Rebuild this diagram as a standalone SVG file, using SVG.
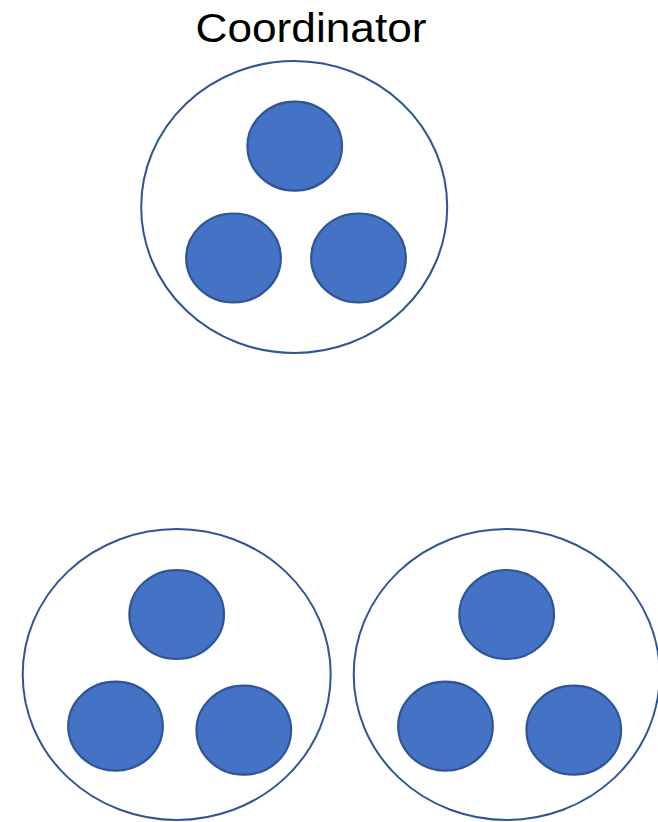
<svg xmlns="http://www.w3.org/2000/svg" width="658" height="822" viewBox="0 0 658 822">
<style>
.group{fill:#FFFFFF;stroke:#2F5597;stroke-width:2}
.member{fill:#4472C4;stroke:#2F5597;stroke-width:2.2}
.label{font-family:"Liberation Sans",Arial,sans-serif;font-size:41px;fill:#000}
</style>
<rect width="658" height="822" fill="#FFFFFF"/>
<g id="coordinator">
<text class="label" x="311" y="41.5" text-anchor="middle" textLength="231" lengthAdjust="spacingAndGlyphs">Coordinator</text>
<ellipse class="group" cx="294.2" cy="207" rx="153" ry="146"/>
<ellipse class="member" cx="294.7" cy="146.2" rx="47.3" ry="44.5"/>
<ellipse class="member" cx="233.5" cy="258" rx="47.3" ry="44.5"/>
<ellipse class="member" cx="358.5" cy="258" rx="47.3" ry="44.5"/>
</g>
<g id="group-left">
<ellipse class="group" cx="176.7" cy="674.5" rx="154" ry="145.5"/>
<ellipse class="member" cx="176.7" cy="614.5" rx="47.3" ry="44.5"/>
<ellipse class="member" cx="115.5" cy="726.2" rx="47.3" ry="44.5"/>
<ellipse class="member" cx="243.8" cy="730.2" rx="47.3" ry="44.5"/>
</g>
<g id="group-right">
<ellipse class="group" cx="506.7" cy="674.5" rx="153" ry="145.5"/>
<ellipse class="member" cx="506.7" cy="614.5" rx="47.3" ry="44.5"/>
<ellipse class="member" cx="445.5" cy="726.2" rx="47.3" ry="44.5"/>
<ellipse class="member" cx="573.8" cy="730.2" rx="47.3" ry="44.5"/>
</g>
<g id="connectors"></g>
</svg>
